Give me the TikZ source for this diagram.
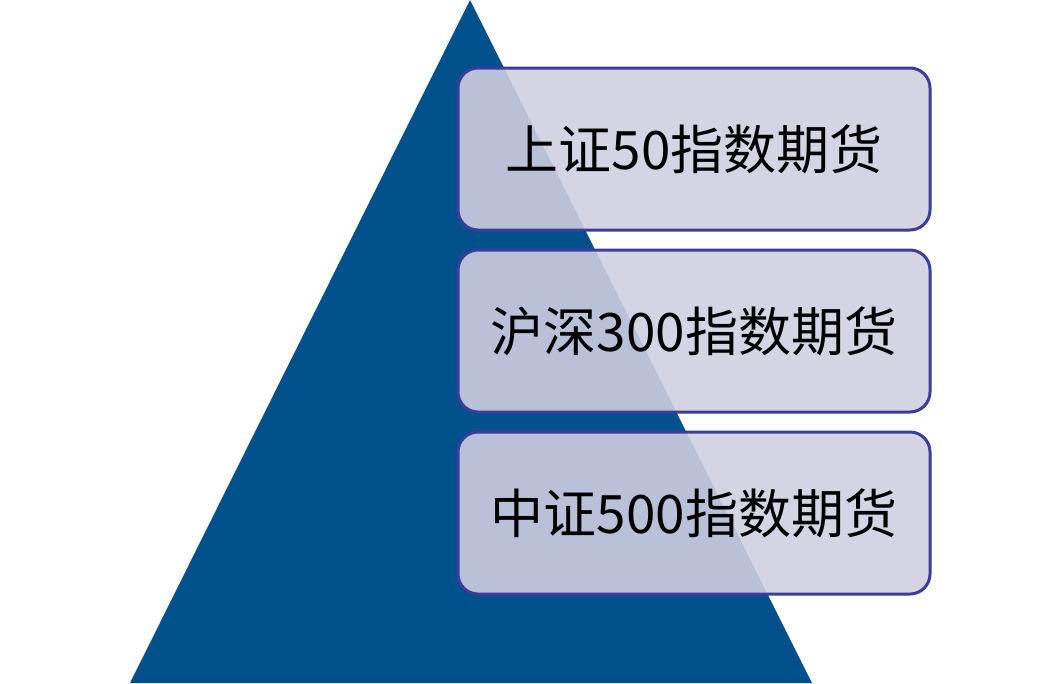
\documentclass[tikz,border=0pt]{standalone}
\usepackage{fontspec}
\newfontfamily\cjk{Noto Sans CJK SC}
\definecolor{triblue}{HTML}{00508C}
\definecolor{boxfill}{HTML}{CFCFE1}
\definecolor{boxline}{HTML}{3C3C9C}
\tikzset{
  tier/.style={draw=boxline, line width=3pt, fill=boxfill, fill opacity=0.89, draw opacity=1, text opacity=1,
    rounded corners=20pt, minimum width=472pt, minimum height=162pt, inner sep=0pt,
    font=\cjk\fontsize{53}{63}\selectfont, text=black}
}
\begin{document}
\begin{tikzpicture}[x=1pt,y=-1pt]
\useasboundingbox (0,0) rectangle (1060,683);
\fill[triblue] (470,0) coordinate (apex) -- (812,683) coordinate (br) -- (130,683) coordinate (bl) -- cycle;
\node[tier] (t1) at (694,149) {上证50指数期货};
\node[tier] (t2) at (694,331) {沪深300指数期货};
\node[tier] (t3) at (694,513) {中证500指数期货};
\end{tikzpicture}
\end{document}
